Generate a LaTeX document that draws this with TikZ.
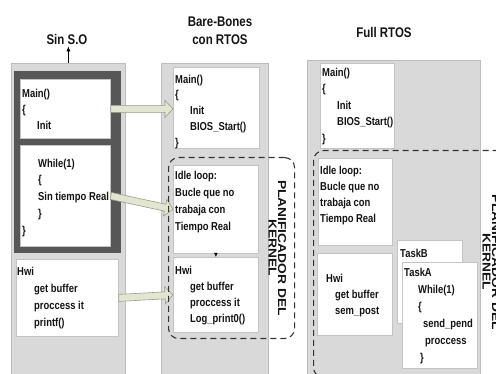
\documentclass[tikz,border=0pt]{standalone}
\usepackage{fontspec}
\setmainfont{Liberation Sans}[FakeStretch=0.82]
\newfontfamily\kfont{Liberation Sans}[FakeStretch=1.2]
\usetikzlibrary{calc,arrows.meta}
\definecolor{panelfill}{HTML}{D9D9D9}
\definecolor{panelline}{HTML}{BDBDBD}
\definecolor{darkframe}{HTML}{575757}
\definecolor{boxline}{HTML}{C4C4C4}
\definecolor{arrowfill}{HTML}{E2E6D0}
\definecolor{arrowline}{HTML}{9A9C8C}
\definecolor{txtcol}{HTML}{141414}
\newcommand\ind[1]{\hspace*{#1pt}}
\newcommand\blkarrow[2]{%
  \path (#1) coordinate (ba-s);
  \path (#2) coordinate (ba-t);
  \path ($(ba-t)!8pt!(ba-s)$) coordinate (ba-b);
  \filldraw[blk] ($(ba-s)!3.5pt!90:(ba-t)$) -- ($(ba-b)!3.5pt!90:(ba-t)$)
    -- ($(ba-b)!8.5pt!90:(ba-t)$) -- (ba-t) -- ($(ba-b)!8.5pt!-90:(ba-t)$)
    -- ($(ba-b)!3.5pt!-90:(ba-t)$) -- ($(ba-s)!3.5pt!-90:(ba-t)$) -- cycle;
}
\begin{document}
\begin{tikzpicture}[x=1pt,y=-1pt,
  panel/.style={draw=panelline, fill=panelfill, line width=0.8pt, anchor=north west, inner sep=0},
  dframe/.style={fill=darkframe, draw=none, anchor=north west, inner sep=0},
  wbox/.style={draw=boxline, fill=white, line width=0.8pt, anchor=north west, inner sep=0},
  dashbox/.style={draw=black!80, line width=1.1pt, dash pattern=on 6pt off 4pt, rounded corners=10pt, anchor=north west, inner sep=0},
  txt/.style={inner sep=0, anchor=north west, align=left, text=txtcol, font=\fontsize{11.5}{#1}\selectfont\bfseries},
  txt/.default=16.5,
  ttl/.style={inner sep=0, align=center, text=txtcol, font=\fontsize{14}{18}\selectfont\bfseries},
  klabel/.style={inner sep=0, rotate=-90, align=center, text=txtcol, font=\kfont\fontsize{11.5}{9.5}\selectfont\bfseries},
  blk/.style={fill=arrowfill, draw=arrowline, line width=0.6pt, line join=miter},
  smallarr/.style={draw=black, line width=0.6pt, -{Latex[length=5pt,width=4pt]}}
]
\useasboundingbox (0,0) rectangle (496,374);
\clip (0,0) rectangle (496,374);

% titles
\node[ttl] (t1) at (67,39) {Sin S.O};
\node[ttl] (t2) at (220,31) {Bare-Bones\\con RTOS};
\node[ttl] (t3) at (384,32) {Full RTOS};

% panels
\node[panel, minimum width=114pt, minimum height=320pt] (p1) at (11,63) {};
\node[panel, minimum width=107pt, minimum height=320pt] (p2) at (161,63) {};
\node[panel, minimum width=173pt, minimum height=320pt] (p3) at (307,60) {};

\draw[smallarr, shorten >=2pt] (p1.north) -- (p1.north |- t1.south);

% column 1
\node[dframe, minimum width=107pt, minimum height=182pt] (f1) at (14,71) {};
\node[wbox, minimum width=90pt, minimum height=59pt] (m1) at (20,79) {};
\node[wbox, minimum width=90pt, minimum height=101pt] (w1) at (20,145) {};
\node[wbox, minimum width=102pt, minimum height=77pt] (h1) at (16,259) {};
\node[txt=16] (m1t) at (22,88.5) {Main()\\\{\\\ind{15}Init};
\node[txt=16.75] (w1t) at (22,158.5) {\ind{16}While(1)\\\ind{16}\{\\\ind{16}Sin tiempo Real\\\ind{16}\}\\\}};
\node[txt=17.3] (h1t) at (17,266.5) {Hwi\\\ind{17}get buffer\\\ind{17}proccess it\\\ind{17}printf()};

% column 2
\node[wbox, minimum width=86pt, minimum height=81pt] (m2) at (173,67) {};
\node[wbox, minimum width=85pt, minimum height=88pt] (i2) at (173,165) {};
\node[wbox, minimum width=85pt, minimum height=75pt] (h2) at (173,257) {};
\node[txt=15.75] (m2t) at (175,74.5) {Main()\\\{\\\ind{15}Init\\\ind{15}BIOS\_Start()\\\}};
\node[txt=17.3] (i2t) at (175,170.5) {Idle loop:\\Bucle que no\\trabaja con\\Tiempo Real};
\node[txt=16.3] (h2t) at (175,265.5) {Hwi\\\ind{15}get buffer\\\ind{15}proccess it\\\ind{15}Log\_print0()};
\draw[draw=black, line width=0.5pt, -{Latex[length=4pt,width=3.5pt]}] (i2.south) -- (h2.north);

% column 3
\node[wbox, minimum width=74pt, minimum height=85pt] (m3) at (320,63) {};
\node[wbox, minimum width=74pt, minimum height=87pt] (i3) at (318,158) {};
\node[wbox, minimum width=75pt, minimum height=82pt] (h3) at (317,253) {};
\node[wbox, minimum width=65pt, minimum height=83pt] (tb) at (397,240) {};
\node[wbox, minimum width=75pt, minimum height=106pt] (ta) at (402,262) {};
\node[txt=16.5] (m3t) at (322,67.5) {Main()\\\{\\\ind{15}Init\\\ind{15}BIOS\_Start()\\\}};
\node[txt=16] (i3t) at (320,165.5) {Idle loop:\\Bucle que no\\trabaja con\\Tiempo Real};
\node[txt=16] (h3t) at (326,273.5) {Hwi\\\ind{9}get buffer\\\ind{9}sem\_post};
\node[txt] (tbt) at (400,248.5) {TaskB};
\node[txt=17] (tat) at (404,267.5) {TaskA\\\ind{14}While(1)\\\ind{14}\{\\\ind{19}send\_pend\\\ind{21}proccess\\\ind{16}\}};

% block arrows
\blkarrow{m1.east}{m2.west |- m1.east}
\blkarrow{w1.east}{i2.west}
\blkarrow{h1.east}{h2.west}

% dashed kernel regions
\node[dashbox, minimum width=126pt, minimum height=181pt] (d2) at (168,157) {};
\node[dashbox, minimum width=195pt, minimum height=227pt] (d3) at (313,150) {};
\node[klabel] (k2) at (277.5,248) {PLANIFICADOR DEL\\KERNEL};
\node[klabel] (k3) at (491.5,262) {PLANIFICADOR DEL\\KERNEL};
\end{tikzpicture}
\end{document}
